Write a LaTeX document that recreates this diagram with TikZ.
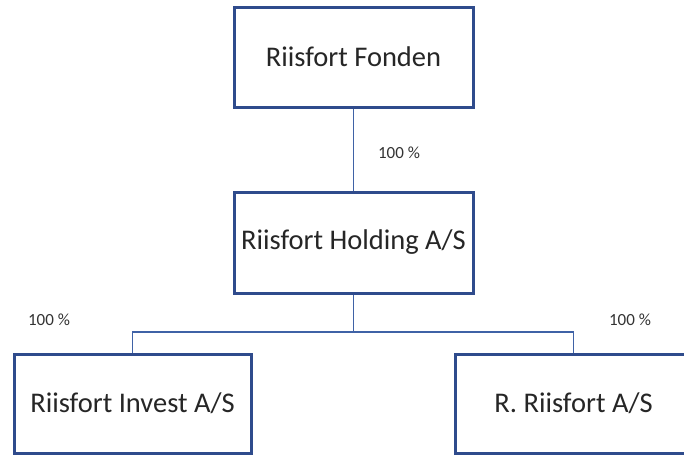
\documentclass[tikz,border=0pt]{standalone}
\usepackage{fontspec}
\setmainfont{Carlito}
\definecolor{boxblue}{HTML}{2F4B8C}
\definecolor{linkblue}{HTML}{3F62A6}
\begin{document}
\begin{tikzpicture}[x=1pt,y=-1pt,
  orgbox/.style={draw=boxblue, line width=3pt, fill=white, rectangle, inner sep=0pt,
    font=\fontsize{28.5}{32}\selectfont, text=black!85},
  link/.style={draw=linkblue, line width=1.3pt},
  pct/.style={font=\fontsize{17}{19}\selectfont, text=black!80, inner sep=0pt}]
\useasboundingbox (0,0) rectangle (684,455);
\clip (0,0) rectangle (684,455);
\node[orgbox, minimum width=239pt, minimum height=100pt] (top) at (353.5,57) {Riisfort Fonden};
\node[orgbox, minimum width=239pt, minimum height=101pt] (mid) at (353.5,242.5) {Riisfort Holding A/S};
\node[orgbox, minimum width=237pt, minimum height=99pt] (bl) at (132.5,403.5) {Riisfort Invest A/S};
\node[orgbox, minimum width=237pt, minimum height=99pt] (br) at (573.5,403.5) {R. Riisfort A/S};
\coordinate (j) at (353.5,332);
\draw[link] (top.south) -- (mid.north);
\draw[link] (mid.south) -- (j);
\draw[link] (j) -| (bl.north);
\draw[link] (j) -| (br.north);
\node[pct] (p1) at (399,153) {100 \%};
\node[pct] (p2) at (49,320) {100 \%};
\node[pct] (p3) at (630,320) {100 \%};
\end{tikzpicture}
\end{document}
